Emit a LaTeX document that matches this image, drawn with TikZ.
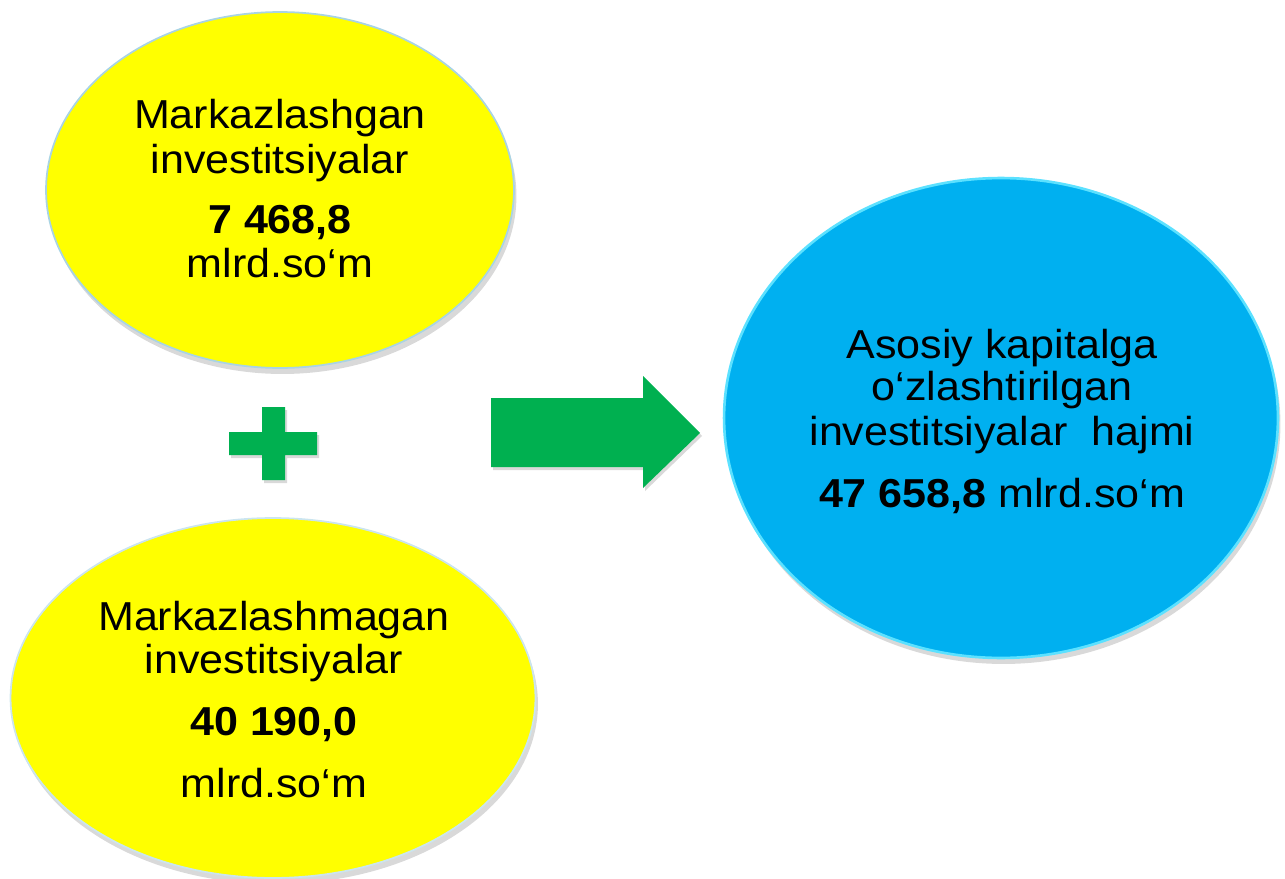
\documentclass[tikz,border=0pt]{standalone}
\usepackage{fontspec}
\setmainfont{Liberation Sans}[FakeStretch=1.065]
\usetikzlibrary{shapes.geometric,shadows}
\definecolor{invyellow}{HTML}{FFFF00}
\definecolor{invblue}{HTML}{00B0F0}
\definecolor{invgreen}{HTML}{00B050}
\definecolor{rimblue}{HTML}{A9D4E4}
\definecolor{rimcyan}{HTML}{5CE1FF}
\newcommand{\ovaltext}{\fontsize{23pt}{26pt}\selectfont}

\begin{document}
\begin{tikzpicture}[x=0.02cm, y=-0.02cm,
    oval/.style={ellipse, inner sep=0pt,
      drop shadow={opacity=0.3, shadow xshift=0.5mm, shadow yshift=-1.2mm}},
    line/.style={anchor=base, inner sep=0pt, font=\ovaltext},
    sign/.style={fill=invgreen, drop shadow={opacity=0.3, shadow xshift=0.4mm, shadow yshift=-0.6mm}}]
		%%%%% START %%%%%
		\useasboundingbox (0, 0) rectangle (1285, 879);
		
		% the two parts
		\node[oval, fill=invyellow, draw=rimblue, line width=1pt,
		  minimum width=9.36cm, minimum height=7.12cm] (central) at (280, 190) {};
		\node[oval, fill=invyellow, draw=rimblue!60, line width=1pt,
		  minimum width=10.5cm, minimum height=7.2cm] (local) at (273, 698) {};
		
		% the total
		\node[oval, fill=invblue, draw=rimcyan, line width=1.5pt,
		  minimum width=11.08cm, minimum height=9.6cm] (total) at (1001, 418) {};
		
		\node[line] (c1) at (280, 128) {Markazlashgan};
		\node[line] (c2) at (280, 173) {investitsiyalar};
		\node[line] (c3) at (280, 233) {\textbf{7 468,8}};
		\node[line] (c4) at (280, 277) {mlrd.so‘m};
		
		\node[line] (l1) at (274, 630) {Markazlashmagan};
		\node[line] (l2) at (274, 673) {investitsiyalar};
		\node[line] (l3) at (274, 735) {\textbf{40 190,0}};
		\node[line] (l4) at (274, 797) {mlrd.so‘m};
		
		\node[line] (t1) at (1002, 358) {Asosiy kapitalga};
		\node[line] (t2) at (1002, 400) {o‘zlashtirilgan};
		\node[line] (t3) at (1002, 445) {investitsiyalar\ \ hajmi};
		\node[line] (t4) at (1002, 507) {\textbf{47 658,8} mlrd.so‘m};
		
		% plus
		\path[sign] (262, 407) -- (285, 407) -- (285, 432) -- (317, 432) -- (317, 455)
		  -- (285, 455) -- (285, 480) -- (262, 480) -- (262, 455) -- (229, 455)
		  -- (229, 432) -- (262, 432) -- cycle;
		
		% arrow
		\path[sign] (491, 398) -- (643, 398) -- (643, 376) -- (700, 433) -- (643, 488)
		  -- (643, 467) -- (491, 467) -- cycle;
		%%%%% END %%%%%
\end{tikzpicture}
\end{document}
